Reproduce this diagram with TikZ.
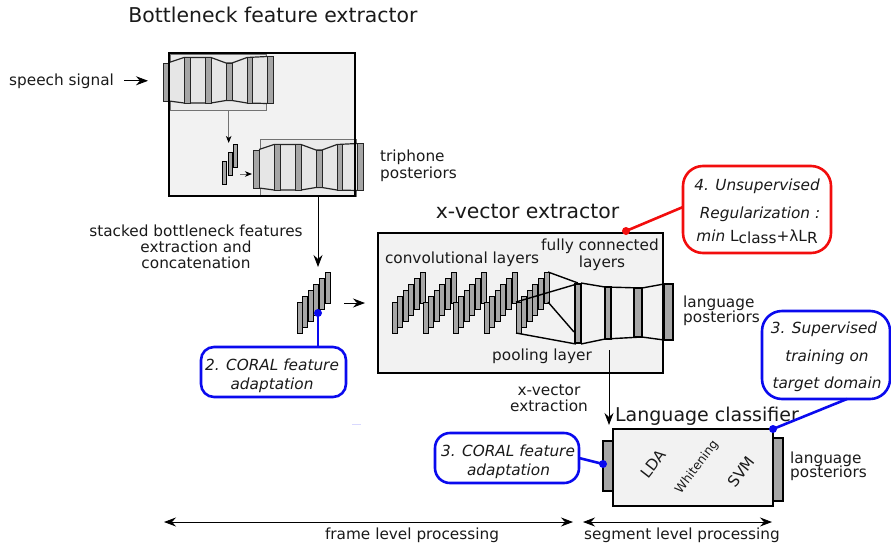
\documentclass[tikz,border=0pt]{standalone}
\usepackage{fontspec}
\setmainfont{DejaVu Sans}
\usetikzlibrary{arrows.meta,calc}
\definecolor{boxfill}{HTML}{F2F2F2}
\definecolor{innerfill}{HTML}{EAEAEA}
\definecolor{netfill}{HTML}{E6E6E6}
\definecolor{barfill}{HTML}{A6A6A6}
\definecolor{cblue}{HTML}{0A0AEE}
\definecolor{cred}{HTML}{F20D0D}
\definecolor{txt}{HTML}{1A1A1A}
\newcommand\fsz[1]{\fontsize{#1}{#1}\selectfont}
\newcommand\bnnet{%
  \fill[netfill] (169,62.5) -- (184,57.5) -- (211,57.5) -- (226,63) -- (232,63) -- (247,57.5) -- (267,56.5) -- (267,103.5) -- (247,103) -- (232,100.5) -- (226,100.5) -- (211,103) -- (184,103) -- (169,101) -- cycle;
  \draw[netline] (169,62.5) -- (184,57.5) -- (211,57.5) -- (226,63) -- (232,63) -- (247,57.5) -- (267,56.5);
  \draw[netline] (169,101) -- (184,103) -- (211,103) -- (226,100.5) -- (232,100.5) -- (247,103) -- (267,103.5);
  \draw[barst] (163,63) rectangle (169,101);
  \draw[barst] (184,57.5) rectangle (190,103);
  \draw[barst] (205,57.5) rectangle (211,103);
  \draw[barst] (226,63) rectangle (232,100.5);
  \draw[barst] (247,57.5) rectangle (252,103);
  \draw[barst] (267,56.5) rectangle (273,103.5);
}
\newcommand\fstack[1]{%
  \foreach \bi in {0,...,5}{\draw[stkbar] ({#1+5.6*\bi},{302-6*\bi}) rectangle ({#1+5+5.6*\bi},{333-6*\bi});}%
}
\begin{document}
\begin{tikzpicture}[x=1pt,y=-1pt,
  lbl/.style={font=\fsz{15.3}, text=txt, inner sep=0pt, anchor=base},
  ital/.style={font={\fsz{15.3}\itshape}, text=txt, inner sep=0pt, anchor=base},
  ttl/.style={font=\fsz{20.4}, text=txt, inner sep=0pt, anchor=base},
  bigbox/.style={draw=black, line width=2.8pt, fill=boxfill, inner sep=0pt, outer sep=0pt},
  barst/.style={draw=black!85, fill=barfill, line width=1pt},
  barblk/.style={draw=black, fill=barfill, line width=1.3pt},
  stkbar/.style={draw=black, fill=barfill, line width=0.9pt},
  netline/.style={draw=black!85, line width=1.2pt},
  fcline/.style={draw=black, line width=1.4pt},
  arr/.style={draw=black, line width=0.8pt, -{Stealth[length=12pt,width=9pt,inset=4pt]}},
  garr/.style={draw=black!55, line width=0.8pt, -{Stealth[length=7pt,width=5.5pt,inset=2pt,black]}},
  darr/.style={draw=black, line width=0.8pt, {Stealth[length=12pt,width=9pt,inset=4pt]}-{Stealth[length=12pt,width=9pt,inset=4pt]}},
  callb/.style={draw=cblue, line width=2.6pt, fill=white, inner sep=0pt, outer sep=0pt},
  callr/.style={draw=cred, line width=2.6pt, fill=white, inner sep=0pt, outer sep=0pt, rounded corners=20pt},
  bline/.style={draw=cblue, line width=2.6pt},
  rline/.style={draw=cred, line width=2.6pt},
]
\useasboundingbox (0,0) rectangle (891,544);

% ---------------- Bottleneck feature extractor
\node[bigbox, minimum width=186pt, minimum height=143pt] (bnbox) at (262,124.5) {};
\draw[draw=black!55, fill=innerfill, line width=0.8pt] (170,54) rectangle (266,110);
\draw[draw=black!55, fill=innerfill, line width=0.8pt] (260,139) rectangle (356,196);
\bnnet
\begin{scope}[shift={(90,87)}]\bnnet\end{scope}
\draw[stkbar] (222,161) rectangle (226,184);
\draw[stkbar] (228,152) rectangle (232,175);
\draw[stkbar] (233,144) rectangle (237,167);
\coordinate (n1out) at (228.7,110);
\coordinate (smstk) at (228.7,143);
\coordinate (smstkr) at (240,174);
\coordinate (n2in) at (252,174);
\draw[garr] (n1out) -- (smstk);
\draw[garr] (smstkr) -- (n2in);
\draw[line width=2.8pt] (bnbox.north west) rectangle (bnbox.south east);

\node[ttl] (bntitle) at (273,22.7) {Bottleneck feature extractor};
\node[lbl, anchor=base west] (speech) at (9,85) {speech signal};
\coordinate (speechin) at (148,81);
\draw[arr, shorten <=10pt] (speech.east) -- (speech.east -| speechin);
\node[lbl, anchor=base west] (tri1) at (380,161) {triphone};
\node[lbl, anchor=base west] (tri2) at (380,178) {posteriors};

% ---------------- stacked features
\node[lbl] (sb1) at (196,236) {stacked bottleneck features};
\node[lbl] (sb2) at (196,252) {extraction and};
\node[lbl] (sb3) at (196,268) {concatenation};
\fstack{297}
\coordinate (sftop) at (318,267);
\draw[arr] (bnbox.south -| sftop) -- (sftop);

% ---------------- x-vector extractor
\node[bigbox, minimum width=285pt, minimum height=140pt] (xvbox) at (520.5,303) {};
\node[ttl] (xvtitle) at (527.5,218.3) {x-vector extractor};
\node[lbl] (conv) at (462,263) {convolutional layers};
\node[lbl] (fc1) at (600,250) {fully connected};
\node[lbl] (fc2) at (602,267) {layers};
\node[lbl] (pool) at (542,360) {pooling layer};
\foreach \gx in {392,423,453,484,516}{\fstack{\gx}}
\draw[fcline] (516,302) -- (577,284);
\draw[fcline] (548,272) -- (578,283);
\draw[fcline] (548,302) -- (574,332);
\draw[fcline] (516,333) -- (576,344);
\draw[barblk] (575,284) rectangle (581,343);
\draw[fcline] (581,283) -- (605,287) -- (642,288) -- (664,284);
\draw[fcline] (581,344) -- (605,339) -- (642,337) -- (664,340);
\draw[barblk] (605,287) rectangle (611,339);
\draw[barblk] (634,288) rectangle (642,337);
\draw[barblk] (664,284) rectangle (673,340);
\node[lbl, anchor=base west] (xl1) at (683,307) {language};
\node[lbl, anchor=base west] (xl2) at (683,322) {posteriors};
\coordinate (sfout) at (344,303);
\draw[arr] (sfout) -- ($(sfout -| xvbox.west)+(-13,0)$);

% ---------------- Language classifier
\node[draw=black, line width=2pt, fill=boxfill, minimum width=160pt, minimum height=77pt, inner sep=0pt, outer sep=0pt] (lcbox) at (693,467.5) {};
\node[font=\fsz{19}, text=txt, inner sep=0pt, anchor=base] (lctitle) at (707,421.7) {Language classifier};
\draw[barblk] (603,441) rectangle (613,491);
\draw[barblk] (773,438) rectangle (783,501);
\node[font=\fsz{15.3}, text=txt, inner sep=0pt, rotate=52] (lda) at (653,464) {LDA};
\node[font=\fsz{12.3}, text=txt, inner sep=0pt, rotate=53] (whit) at (697,467) {Whitening};
\node[font=\fsz{15.3}, text=txt, inner sep=0pt, rotate=52] (svm) at (741,472) {SVM};
\node[lbl, anchor=base west] (ll1) at (790,463) {language};
\node[lbl, anchor=base west] (ll2) at (790,477) {posteriors};
\node[lbl] (xe1) at (549,395) {x-vector};
\node[lbl] (xe2) at (549,411) {extraction};
\coordinate (xvout) at (609,350);
\draw[arr, shorten >=4pt] (xvout) -- (xvout |- lcbox.north);
\draw[draw=blue!15!white, line width=1pt] (352,424) -- (361,424);

% ---------------- callouts
\node[callb, rounded corners=13pt, minimum width=145pt, minimum height=50pt] (c2) at (273.5,372) {};
\node[ital] (c2a) at (272,370) {2. CORAL feature};
\node[ital] (c2b) at (272,389) {adaptation};
\coordinate (sfdot) at (318,313);
\draw[bline] (sfdot) -- (sfdot |- c2.north);
\fill[cblue] (sfdot) circle[radius=4pt];

\node[callr, minimum width=148pt, minimum height=87pt] (c4) at (757,209.5) {};
\node[ital] (c4a) at (757,190) {4. Unsupervised};
\node[ital] (c4b) at (760,218) {Regularization :};
\node[lbl] (c4c) at (757,241) {\textit{min} L\raisebox{-2.5pt}{class}+λL\raisebox{-2.5pt}{R}};
\coordinate (rdot) at (626,231);
\draw[rline] (rdot) -- ($(c4.west)+(0,-2.5)$);
\fill[cred] (rdot) circle[radius=4pt];

\node[callb, rounded corners=20pt, minimum width=128pt, minimum height=88pt] (c3s) at (826,355) {};
\node[ital] (c3sa) at (824,333) {3. Supervised};
\node[ital] (c3sb) at (827,361) {training on};
\node[ital] (c3sc) at (827,388) {target domain};
\draw[bline] (lcbox.north east) -- ($(c3s.south)+(21,0)$);
\fill[cblue] (lcbox.north east) circle[radius=4pt];

\node[callb, rounded corners=15pt, minimum width=144pt, minimum height=50pt] (c3c) at (507,458) {};
\node[ital] (c3ca) at (508,456.5) {3. CORAL feature};
\node[ital] (c3cb) at (508.5,475.5) {adaptation};
\coordinate (lbdot) at (603,464);
\draw[bline] (lbdot) -- (c3c.east);
\fill[cblue] (lbdot) circle[radius=4pt];

% ---------------- processing levels
\coordinate (fl) at (164,522);
\coordinate (fr) at (573,522);
\coordinate (sl) at (583,522);
\coordinate (sr) at (772,522);
\draw[darr] (fl) -- (fr);
\draw[darr] (sl) -- (sr);
\node[lbl] (frame) at (412,539.5) {frame level processing};
\node[lbl] (segm) at (682,539.5) {segment level processing};
\end{tikzpicture}
\end{document}
